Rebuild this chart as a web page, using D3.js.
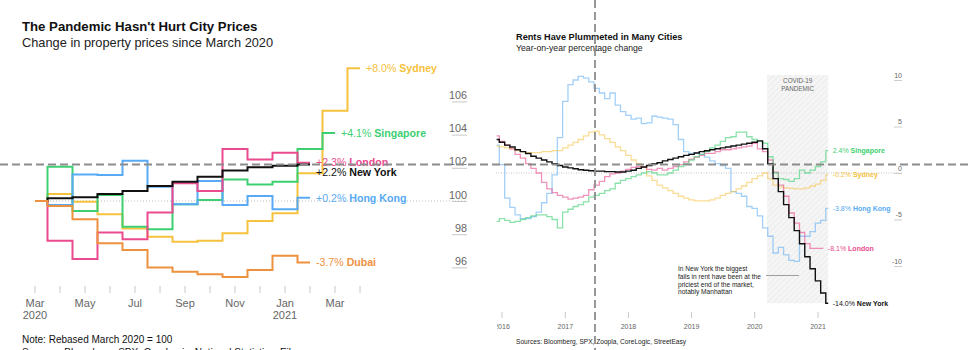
<!DOCTYPE html>
<html>
<head>
<meta charset="utf-8">
<script src="https://cdn.jsdelivr.net/npm/d3@7"></script>
<style>
  html, body { margin: 0; padding: 0; background: #fff; }
  svg { display: block; font-family: "Liberation Sans", Arial, sans-serif; }
</style>
</head>
<body>
<svg id="chart" width="968" height="350"></svg>
<script>
// ---------- Property prices, index (March 2020 = 100) ----------
const priceMonths = ["2020-03","2020-04","2020-05","2020-06","2020-07","2020-08","2020-09",
  "2020-10","2020-11","2020-12","2021-01","2021-02","2021-03","2021-04"];
const priceTickLabels = ["Mar|2020","","May","","Jul","","Sep","","Nov","","Jan|2021","","Mar",""];
const priceAxisValues = [96, 98, 100, 102, 104, 106];

const sydneyPrices    = [100, 100.42, 99.95, 99.2, 98.35, 97.85, 97.55, 97.6, 98.05, 98.8, 99.26, 101.67, 105.44, 108.0];
const singaporePrices = [100, 102.07, 99.4, 100.36, 98.45, 98.3, 99.8, 100.06, 101.3, 101.0, 101.16, 103.13, 104.1];
const hongKongPrices  = [100, 99.76, 101.6, 101.57, 102.43, 100.86, 99.8, 101.2, 99.76, 100.3, 99.5, 100.2];
const londonPrices    = [100, 97.6, 96.5, 98.1, 97.7, 99.3, 101.07, 100.6, 103.13, 102.5, 102.9, 102.3];
const dubaiPrices     = [100, 99.7, 98.9, 97.45, 97.05, 96.0, 95.74, 95.58, 95.42, 95.84, 96.7, 96.3];
const newYorkPrices   = [100, 100.16, 100.22, 100.42, 100.6, 100.9, 101.16, 101.46, 101.83, 102.03, 102.13, 102.2];

// ---------- Rents, year-on-year % change (monthly, Dec 2015 onwards) ----------
const rentStart = "2015-12";
const rentYearTicks = [2016, 2017, 2018, 2019, 2020, 2021];
const rentAxisValues = [10, 5, 0, -5, -10];

const hongKongRents = [3.0, 0.9, -2.7, -3.7, -4.5, -4.9, -4.9, -4.7, -4.2, -3.2, -2.2, -0.2, 3.8,
  7.7, 9.5, 10.0, 10.4, 10.2, 9.8, 9.1, 8.6, 8.0, 8.6, 7.3, 6.6, 6.2, 5.8, 5.9, 5.3, 5.4, 6.1, 6.0,
  5.9, 5.8, 5.2, 3.6, 2.3, 2.1, 2.2, 2.0, 1.7, 1.3, 1.0, 0.8, 0.5, -2.0, -2.2, -2.5, -3.6, -3.8,
  -4.6, -5.9, -6.8, -8.6, -8.0, -8.8, -9.4, -9.5, -6.8, -6.8, -6.3, -5.4, -5.1, -3.8];
const sydneyRents = [2.9, 2.8, 2.7, 2.6, 2.4, 2.3, 2.2, 2.2, 2.2, 2.3, 2.3, 2.4, 2.4, 2.7, 3.0, 3.3,
  3.6, 4.0, 4.4, 4.5, 4.1, 3.7, 3.3, 2.8, 2.4, 1.9, 1.4, 1.0, 0.6, -0.3, -0.8, -1.3, -1.6, -1.9,
  -2.2, -2.5, -2.7, -2.9, -3.0, -3.0, -3.0, -2.9, -2.7, -2.4, -2.2, -2.0, -1.7, -1.4, -1.0, -0.6,
  -0.3, 0.0, -0.6, -1.3, -1.5, -1.6, -1.65, -1.7, -1.7, -1.6, -1.4, -1.2, -0.8, -0.2];
const londonRents = [4.0, 3.4, 3.0, 2.6, 2.0, 1.6, 1.0, 0.5, 0.0, -1.0, -1.7, -2.1, -2.4, -2.6, -2.8,
  -2.7, -2.6, -2.4, -1.8, -1.3, -0.9, -0.4, -0.1, 0.0, 0.2, 0.4, 0.6, 0.7, 0.6, 0.4, 0.3, 0.5, 0.3,
  0.5, 0.7, 0.9, 1.2, 1.5, 1.7, 1.9, 2.1, 2.1, 2.3, 2.5, 2.5, 2.6, 2.7, 2.8, 2.9, 3.2, 2.6, 2.3,
  1.4, 0.1, -1.3, -2.5, -4.3, -5.4, -6.4, -7.6, -8.1, -8.1, -8.1];
const singaporeRents = [-5.2, -4.9, -5.1, -5.3, -5.2, -5.0, -4.8, -4.6, -4.5, -4.5, -4.7, -5.0, -5.9,
  -4.2, -3.9, -3.6, -3.4, -3.1, -2.6, -2.4, -2.2, -1.9, -1.7, -1.1, -0.8, -0.6, -0.4, -0.2, 0.0,
  0.15, 0.0, -0.2, -0.2, 0.0, 0.3, 0.7, 1.0, 1.4, 1.75, 2.0, 2.3, 2.7, 3.0, 3.4, 3.8, 3.9, 4.4,
  4.4, 3.9, 3.6, 3.4, 3.2, 1.75, 0.0, -0.6, -0.7, -0.9, -0.6, 0.3, 0.0, 0.3, 0.7, 1.2, 2.4];
const newYorkRents = [3.6, 3.3, 3.0, 2.8, 2.5, 2.3, 2.1, 1.8, 1.6, 1.4, 1.2, 1.0, 0.8, 0.65, 0.55,
  0.45, 0.35, 0.3, 0.25, 0.2, 0.2, 0.15, 0.15, 0.1, 0.1, 0.2, 0.3, 0.5, 0.65, 0.8, 1.0, 1.1, 1.3,
  1.45, 1.6, 1.75, 1.9, 2.0, 2.15, 2.3, 2.4, 2.5, 2.6, 2.7, 2.8, 2.9, 3.0, 3.1, 3.2, 3.3, 3.45,
  2.6, 1.0, -0.6, -2.0, -3.4, -4.8, -6.2, -7.6, -9.0, -10.3, -11.6, -12.9, -14.0];

const pandemicStart = "2020-03";
const pandemicEnd = "2021-03";

// ---------- Styling ----------
const COLORS = {
  sydney: "#f6c13c", singapore: "#3dcf72", hongKong: "#58aaf4",
  london: "#ea4a8e", dubai: "#ee913f", newYork: "#111111"
};

const svg = d3.select("#chart");
const parseMonth = d3.timeParse("%Y-%m");

// =========== Left panel: property prices ===========
const L = svg.append("g");

L.append("text").attr("x", 22).attr("y", 31)
  .attr("font-size", 13.2).attr("font-weight", 700).attr("fill", "#111")
  .text("The Pandemic Hasn't Hurt City Prices");
L.append("text").attr("x", 22).attr("y", 47)
  .attr("font-size", 12.8).attr("fill", "#222")
  .text("Change in property prices since March 2020");

const px = d3.scalePoint().domain(priceMonths).range([35, 360]);
const py = d3.scaleLinear().domain([96, 106]).range([267.4, 101.4]);

// baseline at 100
L.append("line").attr("x1", 35).attr("x2", 467)
  .attr("y1", py(100)).attr("y2", py(100))
  .attr("stroke", "#bbb").attr("stroke-width", 1).attr("stroke-dasharray", "1,2");

// right-hand value labels with underline ticks
const pyAxis = L.append("g");
priceAxisValues.forEach(v => {
  pyAxis.append("line").attr("x1", 452).attr("x2", 467)
    .attr("y1", py(v) + 0.5).attr("y2", py(v) + 0.5)
    .attr("stroke", "#c8c8c8").attr("stroke-width", 1);
  pyAxis.append("text").attr("x", 467).attr("y", py(v) - 2.5)
    .attr("text-anchor", "end").attr("font-size", 10.8).attr("fill", "#666")
    .text(v);
});

// month ticks and labels
const pxAxis = L.append("g");
priceMonths.forEach((m, i) => {
  pxAxis.append("line").attr("x1", px(m)).attr("x2", px(m))
    .attr("y1", 286).attr("y2", 293).attr("stroke", "#c8c8c8");
  const parts = priceTickLabels[i].split("|");
  parts.forEach((t, j) => {
    if (!t) return;
    pxAxis.append("text").attr("x", px(m)).attr("y", 307 + j * 12)
      .attr("text-anchor", "middle").attr("font-size", 11).attr("fill", "#666").text(t);
  });
});

// drawing order: New York under Dubai so the shared March start reads orange
const priceSeries = [
  { name: "Sydney", values: sydneyPrices, color: COLORS.sydney, dy: 0 },
  { name: "Singapore", values: singaporePrices, color: COLORS.singapore, dy: 0 },
  { name: "Hong Kong", values: hongKongPrices, color: COLORS.hongKong, dy: 0 },
  { name: "London", values: londonPrices, color: COLORS.london, dy: -1 },
  { name: "New York", values: newYorkPrices, color: COLORS.newYork, dy: 8 },
  { name: "Dubai", values: dubaiPrices, color: COLORS.dubai, dy: 0 }
];

const priceLine = d3.line()
  .x((d, i) => px(priceMonths[i]))
  .y(d => py(d))
  .curve(d3.curveStep);

priceSeries.forEach(s => {
  L.append("path").datum(s.values)
    .attr("d", priceLine)
    .attr("fill", "none").attr("stroke", s.color).attr("stroke-width", 2)
    .attr("stroke-linejoin", "miter");
});

priceSeries.forEach(s => {
  const last = s.values.length - 1;
  const change = s.values[last] - 100;
  const lbl = L.append("text")
    .attr("x", px(priceMonths[last]) + 6)
    .attr("y", py(s.values[last]) + 4 + s.dy)
    .attr("font-size", 10.6).attr("fill", s.color);
  lbl.append("tspan").text((change >= 0 ? "+" : "") + change.toFixed(1) + "% ");
  lbl.append("tspan").attr("font-weight", 700).text(s.name);
});

L.append("text").attr("x", 22).attr("y", 343)
  .attr("font-size", 10).attr("fill", "#111")
  .text("Note: Rebased March 2020 = 100");
L.append("text").attr("x", 22).attr("y", 356)
  .attr("font-size", 10).attr("fill", "#111")
  .text("Sources: Bloomberg, SPX, CoreLogic, National Statistics, Eiken");

// =========== Right panel: rents ===========
const R = svg.append("g");

const defs = svg.append("defs");
const hatch = defs.append("pattern").attr("id", "hatch")
  .attr("width", 4).attr("height", 4).attr("patternUnits", "userSpaceOnUse")
  .attr("patternTransform", "rotate(45)");
hatch.append("rect").attr("width", 4).attr("height", 4).attr("fill", "#f5f5f5");
hatch.append("line").attr("x1", 0).attr("y1", 0).attr("x2", 0).attr("y2", 4)
  .attr("stroke", "#e9e9e9").attr("stroke-width", 1.5);
defs.append("clipPath").attr("id", "rclip")
  .append("rect").attr("x", 497).attr("y", 0).attr("width", 471).attr("height", 350);

R.append("text").attr("x", 516).attr("y", 40)
  .attr("font-size", 9.2).attr("font-weight", 700).attr("fill", "#111")
  .text("Rents Have Plummeted in Many Cities");
R.append("text").attr("x", 516).attr("y", 50.5)
  .attr("font-size", 8.7).attr("fill", "#222")
  .text("Year-on-year percentage change");

const rentDates = d3.range(newYorkRents.length)
  .map(i => d3.timeMonth.offset(parseMonth(rentStart), i));
const rx = d3.scaleTime()
  .domain([new Date(2016, 0, 1), new Date(2021, 0, 1)])
  .range([502, 818]);
const ry = d3.scaleLinear().domain([-10, 10]).range([266, 80]);

// pandemic band
R.append("rect")
  .attr("x", rx(parseMonth(pandemicStart)) + 2)
  .attr("y", ry(10) - 5)
  .attr("width", rx(parseMonth(pandemicEnd)) - rx(parseMonth(pandemicStart)) - 2)
  .attr("height", ry(-14) - ry(10) + 5)
  .attr("fill", "url(#hatch)");
const bandMid = (rx(parseMonth(pandemicStart)) + 2 + rx(parseMonth(pandemicEnd))) / 2;
["COVID-19", "PANDEMIC"].forEach((t, j) => {
  R.append("text").attr("x", bandMid).attr("y", 83 + j * 7.5)
    .attr("text-anchor", "middle").attr("font-size", 6.3).attr("fill", "#666").text(t);
});

// zero line
R.append("line").attr("x1", 496).attr("x2", 902)
  .attr("y1", ry(0)).attr("y2", ry(0))
  .attr("stroke", "#c4c4c4").attr("stroke-dasharray", "1,1.5");

// value labels
rentAxisValues.forEach(v => {
  R.append("line").attr("x1", 894).attr("x2", 902)
    .attr("y1", ry(v) + 0.5).attr("y2", ry(v) + 0.5)
    .attr("stroke", "#ccc");
  R.append("text").attr("x", 902).attr("y", ry(v) - 2.5)
    .attr("text-anchor", "end").attr("font-size", 7).attr("fill", "#666")
    .text(v);
});

// year axis
const rAxis = R.append("g").attr("clip-path", "url(#rclip)");
rentYearTicks.forEach(yr => {
  const x = rx(new Date(yr, 0, 1));
  rAxis.append("line").attr("x1", x).attr("x2", x).attr("y1", 312).attr("y2", 318)
    .attr("stroke", "#c8c8c8");
  rAxis.append("text").attr("x", x).attr("y", 328.5)
    .attr("text-anchor", "middle").attr("font-size", 7).attr("fill", "#666").text(yr);
});

const rentSeries = [
  { name: "Hong Kong", values: hongKongRents, color: COLORS.hongKong, op: 0.55, w: 1.3 },
  { name: "Sydney", values: sydneyRents, color: COLORS.sydney, op: 0.55, w: 1.3 },
  { name: "London", values: londonRents, color: COLORS.london, op: 0.6, w: 1.3 },
  { name: "Singapore", values: singaporeRents, color: COLORS.singapore, op: 0.6, w: 1.3 },
  { name: "New York", values: newYorkRents, color: COLORS.newYork, op: 1, w: 1.4 }
];

const rentLine = d3.line()
  .x((d, i) => rx(rentDates[i]))
  .y(d => ry(d))
  .curve(d3.curveStep);

rentSeries.forEach(s => {
  R.append("path").datum(s.values).attr("d", rentLine)
    .attr("fill", "none").attr("stroke", s.color)
    .attr("stroke-opacity", s.op).attr("stroke-width", s.w);
});

rentSeries.forEach(s => {
  const last = s.values.length - 1;
  const v = s.values[last];
  const lbl = R.append("text")
    .attr("x", rx(rentDates[last]) + 4.5)
    .attr("y", ry(v) + 2.6)
    .attr("font-size", 7).attr("fill", s.color);
  lbl.append("tspan").text(v.toFixed(1) + "% ");
  lbl.append("tspan").attr("font-weight", 700).text(s.name);
});

// New York annotation
const note = ["In New York the biggest", "falls in rent have been at the",
  "priciest end of the market,", "notably Manhattan"];
note.forEach((t, j) => {
  R.append("text").attr("x", 678).attr("y", 271 + j * 7.8)
    .attr("font-size", 6.6).attr("fill", "#222").text(t);
});
R.append("line").attr("x1", 766).attr("x2", 799).attr("y1", 275.5).attr("y2", 275.5)
  .attr("stroke", "#888").attr("stroke-width", 0.8);

R.append("text").attr("x", 516).attr("y", 343.5)
  .attr("font-size", 6.6).attr("fill", "#222")
  .text("Sources: Bloomberg, SPX, Zoopla, CoreLogic, StreetEasy");

// =========== Hover crosshair ===========
const cross = svg.append("g").attr("stroke", "#8c8c8c").attr("stroke-width", 1.8)
  .attr("stroke-dasharray", "8,4");
cross.append("line").attr("x1", 0).attr("x2", 968).attr("y1", 164.5).attr("y2", 164.5);
cross.append("line").attr("x1", 595).attr("x2", 595).attr("y1", 0).attr("y2", 350);
</script>
</body>
</html>
